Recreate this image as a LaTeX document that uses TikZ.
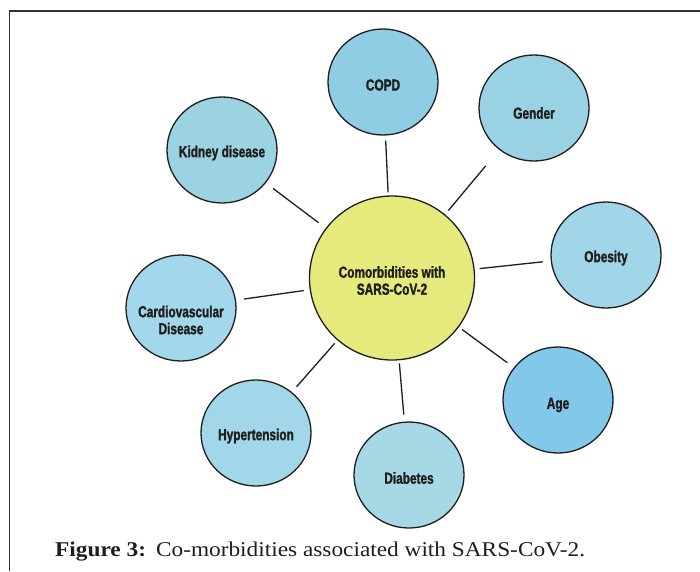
\documentclass[tikz,border=0pt]{standalone}
\usepackage{fontspec}
\setmainfont{Liberation Serif}
\newfontfamily\capfont[FakeStretch=1.11]{Liberation Serif}
\newfontfamily\labelfont[FakeStretch=0.74, BoldFeatures={FakeBold=1.4}]{Liberation Sans}
\usetikzlibrary{shapes.geometric}
\definecolor{cCOPD}{HTML}{8FCDE4}
\definecolor{cGender}{HTML}{99D2E2}
\definecolor{cKidney}{HTML}{9CD3E0}
\definecolor{cObesity}{HTML}{A0D6E8}
\definecolor{cCardio}{HTML}{A3D8EC}
\definecolor{cHyper}{HTML}{A2D7E9}
\definecolor{cDiab}{HTML}{A7D8E5}
\definecolor{cAge}{HTML}{82C8E8}
\definecolor{cCenter}{HTML}{E6E97B}
\definecolor{ink}{HTML}{1E1E1E}
\begin{document}
\begin{tikzpicture}[x=1pt,y=-1pt,
  bub/.style={ellipse, draw=ink, line width=1.3pt, minimum width=110pt, minimum height=106pt,
    inner sep=0pt},
  txt/.style={inner sep=0pt, align=center, text=ink,
    font=\labelfont\bfseries\fontsize{16}{17}\selectfont},
  link/.style={draw=ink, line width=1.3pt},
  frameline/.style={draw=black!80, line width=1.2pt}]
\useasboundingbox (0,0) rectangle (700,571);
\fill[white] (0,0) rectangle (700,571);
\draw[frameline] (9.5,571) -- (9.5,11) -- (700,11);

\node[bub, fill=cCenter, minimum width=165pt, minimum height=164pt] (center) at (392,278) {};
\node[bub, fill=cCOPD] (copd) at (383,82) {};
\node[bub, fill=cGender] (gender) at (534,108) {};
\node[bub, fill=cKidney] (kidney) at (222,150) {};
\node[bub, fill=cObesity] (obesity) at (606,255) {};
\node[bub, fill=cCardio] (cardio) at (181,308) {};
\node[bub, fill=cHyper] (hyper) at (256,433) {};
\node[bub, fill=cDiab] (diab) at (409,475) {};
\node[bub, fill=cAge] (age) at (558,400) {};

\node[txt] (centerT) at ([yshift=-2.5pt]center) {Comorbidities with\\SARS-CoV-2};
\node[txt] (copdT) at ([yshift=-3pt]copd) {COPD};
\node[txt] (genderT) at ([yshift=-5pt]gender) {Gender};
\node[txt] (kidneyT) at ([yshift=-3pt]kidney) {Kidney disease};
\node[txt] (obesityT) at ([yshift=-3pt]obesity) {Obesity};
\node[txt] (cardioT) at ([yshift=-12pt]cardio) {Cardiovascular\\Disease};
\node[txt] (hyperT) at ([yshift=-3pt]hyper) {Hypertension};
\node[txt] (diabT) at ([yshift=-3pt]diab) {Diabetes};
\node[txt] (ageT) at ([yshift=-5pt]age) {Age};

\draw[link, shorten <=3pt, shorten >=5pt] (center) -- (copd);
\draw[link, shorten <=5pt, shorten >=21pt] (center) -- (gender);
\draw[link, shorten <=5pt, shorten >=8pt] (center) -- (obesity);
\draw[link, shorten <=4pt, shorten >=8pt] (center) -- (age);
\draw[link, shorten <=3pt, shorten >=7pt] (center) -- (diab);
\draw[link, shorten <=4pt, shorten >=7pt] (center) -- (hyper);
\draw[link, shorten <=6pt, shorten >=8pt] (center) -- (cardio);
\draw[link, shorten <=9pt, shorten >=9pt] (center) -- (kidney);

\node[anchor=base west, inner sep=0pt, text=ink, font=\capfont\fontsize{21}{24}\selectfont] (caption) at (55,556)
  {\textbf{Figure 3:}\hspace{10pt}Co-morbidities associated with SARS-CoV-2.};
\end{tikzpicture}
\end{document}
